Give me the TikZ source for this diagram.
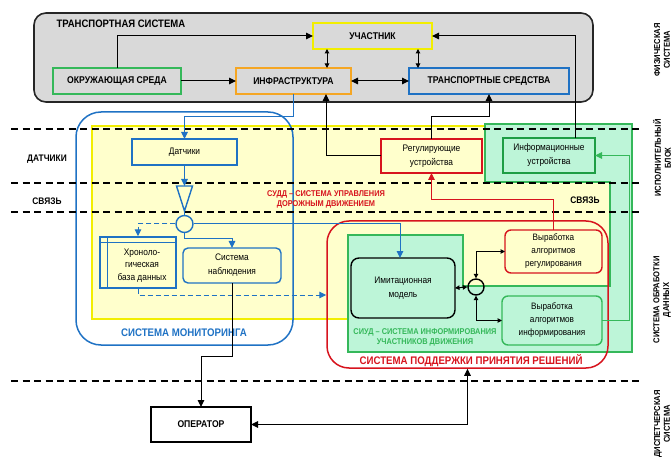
\documentclass[tikz,border=0pt]{standalone}
\usepackage{fontspec}
\setmainfont{Liberation Sans}[FakeStretch=0.88]
\usetikzlibrary{arrows.meta,calc}

\definecolor{grayfill}{HTML}{D9D9D9}
\definecolor{ylfill}{HTML}{FFFFCC}
\definecolor{ylline}{HTML}{F2EE00}
\definecolor{mint}{HTML}{BDF5D8}
\definecolor{mintline}{HTML}{35B85A}
\definecolor{dgreen}{HTML}{1E9E45}
\definecolor{bl}{HTML}{1F72C4}
\definecolor{rd}{HTML}{D7141E}
\definecolor{org}{HTML}{F5A623}

\begin{document}
\begin{tikzpicture}[x=1pt,y=-1pt,
  box/.style={draw, line width=1.4pt, inner sep=0pt, outer sep=0pt, align=center,
    font=\bfseries\fontsize{9.8}{11}\selectfont},
  sbox/.style={draw, line width=1.4pt, inner sep=0pt, outer sep=0pt, align=center,
    font=\fontsize{9.5}{14}\selectfont},
  arr/.style={-{Triangle[length=7pt,width=6.5pt]}, line width=1pt},
  darr/.style={{Triangle[length=7pt,width=6.5pt]}-{Triangle[length=7pt,width=6.5pt]}, line width=1pt},
  sdarr/.style={{Triangle[length=4.5pt,width=4.5pt]}-{Triangle[length=4.5pt,width=4.5pt]}, line width=1pt},
  dashline/.style={dash pattern=on 5pt off 3pt},
  sepline/.style={line width=1.6pt, dash pattern=on 7pt off 4.5pt},
  rowlbl/.style={font=\bfseries\fontsize{9.5}{11}\selectfont},
  sidelbl/.style={rotate=90, align=center, font=\bfseries\fontsize{8.6}{9.8}\selectfont},
  systtl/.style={font=\bfseries\fontsize{11}{13}\selectfont},
  subttl/.style={align=center, font=\bfseries\fontsize{8.4}{10.8}\selectfont}]

\useasboundingbox (0,0) rectangle (672,465);

% ---------- transport system ----------
\node[draw=black!85, line width=1.6pt, fill=grayfill, rounded corners=12pt,
      minimum width=559pt, minimum height=89pt, inner sep=0pt] (tsys) at (313.5,57.5) {};
\node[anchor=west, font=\bfseries\fontsize{10.8}{12}\selectfont] (tstitle) at (53,24) {ТРАНСПОРТНАЯ СИСТЕМА};
\node[box, draw=ylline, minimum width=119pt, minimum height=26pt] (uch) at (372.5,36) {УЧАСТНИК};
\node[box, draw=mintline, minimum width=128pt, minimum height=26pt] (okr) at (117,81) {ОКРУЖАЮЩАЯ СРЕДА};
\node[box, draw=org, minimum width=115pt, minimum height=26pt] (infra) at (293.5,81) {ИНФРАСТРУКТУРА};
\node[box, draw=bl, minimum width=160pt, minimum height=26pt] (tsr) at (489,81) {ТРАНСПОРТНЫЕ СРЕДСТВА};

% ---------- coloured regions ----------
\fill[ylfill] (92,126) rectangle (610,319);
\draw[ylline, line width=1.3pt] (485,126) -- (92,126) -- (92,319) -- (348,319);
\filldraw[fill=mint, draw=mintline, line width=1.3pt]
  (485,124) -- (632,124) -- (632,352) -- (348,352) -- (348,235) -- (463,235)
  -- (463,286) -- (610,286) -- (610,182) -- (485,182) -- cycle;

\node[draw=bl, line width=1.5pt, rounded corners=25pt, minimum width=217pt,
      minimum height=233pt, inner sep=0pt] (mon) at (184.5,228.5) {};
\node[draw=rd, line width=1.5pt, rounded corners=22pt, minimum width=281pt,
      minimum height=147pt, inner sep=0pt] (sppr) at (467.5,294.5) {};

% ---------- layer separators ----------
\foreach \yy in {129,183,212,381}
  \draw[sepline] (11,\yy) -- (643,\yy);

% ---------- row and side labels ----------
\node[rowlbl] (lblsens) at (47,159) {ДАТЧИКИ};
\node[rowlbl] (lbllinkl) at (47,201) {СВЯЗЬ};
\node[rowlbl] (lbllinkr) at (585,200) {СВЯЗЬ};
\node[sidelbl] (sphys) at (662,50) {ФИЗИЧЕСКАЯ\\СИСТЕМА};
\node[sidelbl] (sexec) at (662,158) {ИСПОЛНИТЕЛЬНЫЙ\\БЛОК};
\node[sidelbl] (sproc) at (662,300) {СИСТЕМА ОБРАБОТКИ\\ДАННЫХ};
\node[sidelbl] (sdisp) at (662,424) {ДИСПЕТЧЕРСКАЯ\\СИСТЕМА};

\node[systtl, text=bl] (monttl) at (184,333) {СИСТЕМА МОНИТОРИНГА};
\node[systtl, text=rd] (spprttl) at (471,361) {СИСТЕМА ПОДДЕРЖКИ ПРИНЯТИЯ РЕШЕНИЙ};
\node[subttl, text=rd] (suddttl) at (326,199.5) {СУДД – СИСТЕМА УПРАВЛЕНИЯ\\ДОРОЖНЫМ ДВИЖЕНИЕМ};
\node[subttl, text=mintline] (siudttl) at (425,337.5) {СИУД – СИСТЕМА ИНФОРМИРОВАНИЯ\\УЧАСТНИКОВ ДВИЖЕНИЯ};

% ---------- monitoring blocks ----------
\node[sbox, draw=bl, fill=ylfill, minimum width=105pt, minimum height=26pt] (datch) at (184.5,152) {Датчики};
\draw[bl, line width=1.4pt] (176.5,186) -- (192.5,186) -- (184.5,211) -- cycle;
\coordinate (trt) at (184.5,186);
\coordinate (trb) at (184.5,211);
\node[circle, draw=bl, line width=1.4pt, fill=ylfill, minimum size=17pt, inner sep=0pt] (c1) at (184.5,224) {};

\node[draw=bl, line width=1.4pt, fill=ylfill, minimum width=76pt, minimum height=51pt,
      inner sep=0pt] (hron) at (138,262.5) {};
\draw[bl, line width=1pt] ([xshift=8pt]hron.north west) -- ([xshift=8pt]hron.south west);
\draw[bl, line width=1pt] ([yshift=-6pt]hron.north west) -- ([yshift=-6pt]hron.north east);
\node[align=center, font=\fontsize{9.5}{12.5}\selectfont] (hrontxt) at (142,265.5) {Хроноло-\\гическая\\база данных};

\node[sbox, draw=bl, fill=ylfill, rounded corners=5pt, minimum width=98pt, minimum height=35pt] (nabl) at (232,265.5) {Система\\наблюдения};

% ---------- decision support blocks ----------
\node[sbox, draw=rd, fill=ylfill, minimum width=101pt, minimum height=34pt] (regu) at (431.5,156) {Регулирующие\\устройства};
\node[sbox, draw=dgreen, fill=mint, minimum width=92pt, minimum height=35pt] (infu) at (549,155.5) {Информационные\\устройства};
\node[sbox, draw=black, fill=mint, rounded corners=8pt, minimum width=104pt, minimum height=60pt] (imit) at (403,288) {Имитационная\\модель};
\node[circle, draw=black, line width=1.4pt, minimum size=16pt, inner sep=0pt] (c2) at (476,287) {};
\node[sbox, draw=rd, fill=ylfill, rounded corners=6pt, minimum width=97pt, minimum height=43pt,
      font=\fontsize{9.3}{13}\selectfont] (vreg) at (553.5,251.5) {Выработка\\алгоритмов\\регулирования};
\node[sbox, draw=mintline, fill=mint, rounded corners=6pt, minimum width=100pt, minimum height=49pt,
      font=\fontsize{9.3}{13}\selectfont] (vinf) at (552,320.5) {Выработка\\алгоритмов\\информирования};

\node[box, draw=black, fill=white, minimum width=100pt, minimum height=35pt] (oper) at (201,424.5) {ОПЕРАТОР};

% ---------- routing helpers ----------
\coordinate (lvA) at (0,117);
\coordinate (lvB) at (0,200);
\coordinate (lvC) at (0,239);
\coordinate (lvD) at (0,295);
\coordinate (lvE) at (0,356);
\coordinate (colG) at (629,0);
\coordinate (uiX) at ([xshift=14pt]uch.south west);
\coordinate (utX) at ([xshift=9pt]tsr.north west);
\coordinate (iuX) at ([xshift=-20pt]infu.north east);
\coordinate (irX) at ([xshift=-25pt]infra.south east);
\coordinate (imX) at ([xshift=-3pt]imit.north);

% ---------- connectors ----------
\draw[arr] (okr.north) |- (uch.west);
\draw[arr] (okr.east) -- (infra.west);
\draw[darr] (infra.east) -- (tsr.west);
\draw[sdarr] (uiX) -- (uiX |- infra.north);
\draw[sdarr] (utX |- uch.south) -- (utX);
\draw[arr] (iuX) |- (uch.east);
\draw[arr] (regu.north) |- (tsr.south |- lvA) -- (tsr.south);
\draw[arr] (regu.west) -| (irX);

\draw[arr, bl] (infra.south) |- (datch.north |- lvA) -- (datch.north);
\draw[arr, bl] (datch.south) -- (trt);
\draw[bl, line width=1pt] (trb) -- (c1.north);
\draw[arr, bl] (c1.east) -| (imX);
\draw[arr, bl, dashline] (c1.west) -| (hron.north);
\draw[arr, bl] (c1.south) |- (nabl.north |- lvC) -- (nabl.north);
\draw[arr, bl, dashline] (hron.south) |- (sppr.west |- lvD);

\draw[arr] (nabl.south) |- (oper.north |- lvE) -- (oper.north);
\draw[darr] (oper.east) -| (sppr.south);

\draw[sdarr] (imit.east) -- (c2.west);
\draw[sdarr] (c2.north) |- (vreg.west);
\draw[sdarr] (c2.south) |- (vinf.west);
\draw[arr, rd] (vreg.north) |- (regu.south |- lvB) -- (regu.south);
\draw[arr, mintline] (vinf.east) -- (vinf.east -| colG) |- (infu.east);

\end{tikzpicture}
\end{document}
